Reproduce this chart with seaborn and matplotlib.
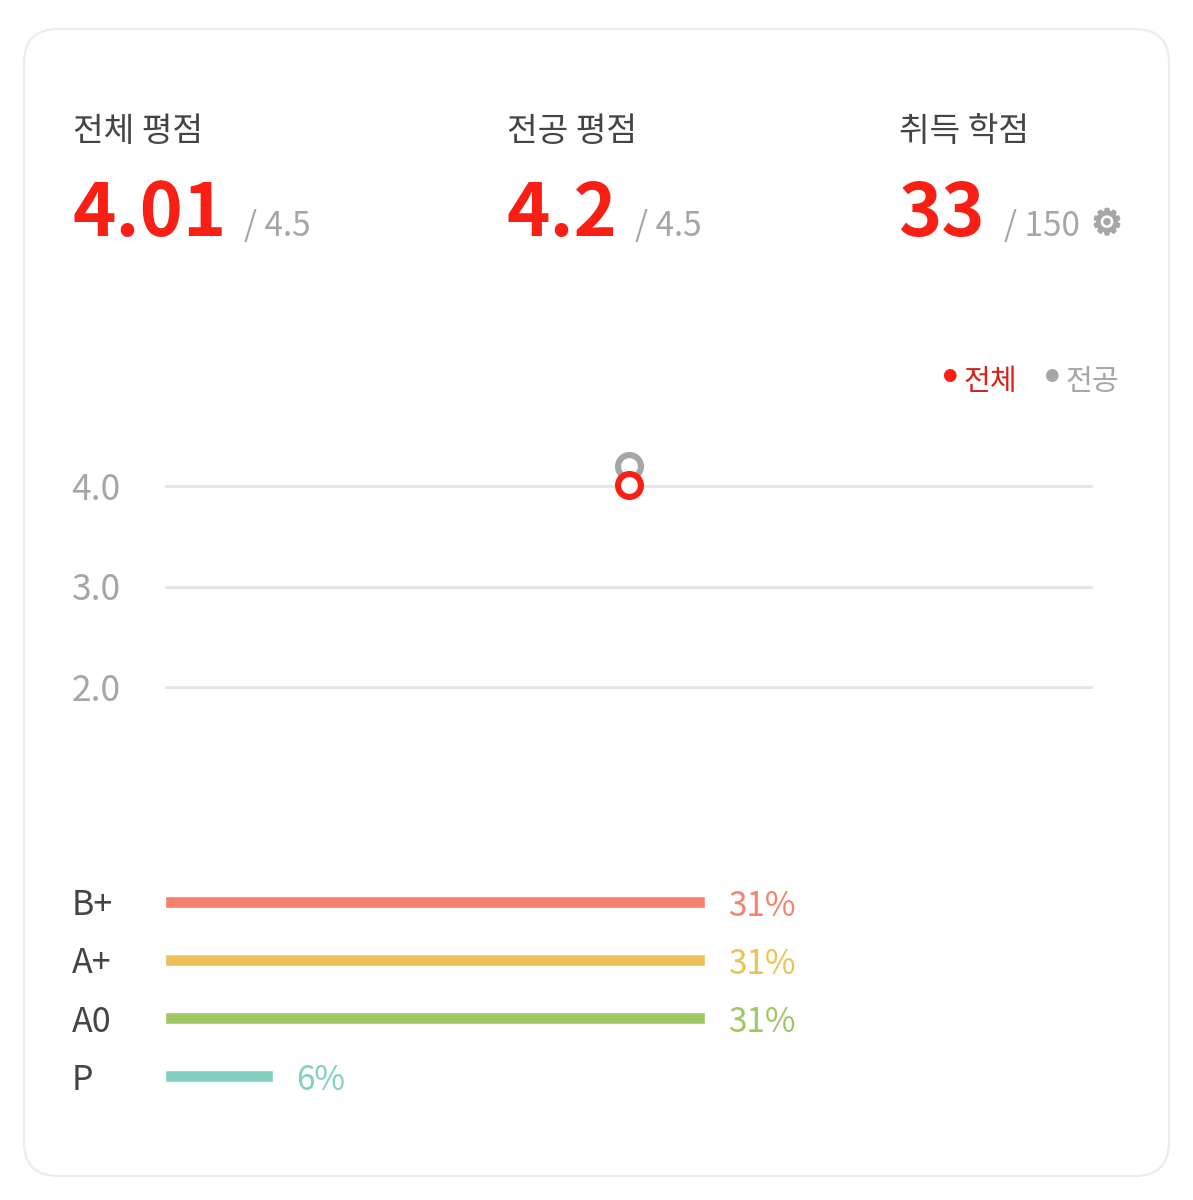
import matplotlib
matplotlib.use("Agg")
import matplotlib.pyplot as plt
import matplotlib.patheffects as pe
from matplotlib.patches import FancyBboxPatch
import pandas as pd
import seaborn as sns

sns.set_theme(style="white")
plt.rcParams['font.family'] = ['Noto Sans CJK KR', 'DejaVu Sans']

W, H = 1193, 1200

# data
summary_titles = ["전체 평점", "전공 평점", "취득 학점"]
summary_values = ["4.01", "4.2", "33"]
summary_limits = ["/ 4.5", "/ 4.5", "/ 150"]
terms = ["1"]
overall_gpa = [4.01]
major_gpa = [4.2]
gpa_ticks = [2.0, 3.0, 4.0]
grades = ["B+", "A+", "A0", "P"]
grade_shares = [31.25, 31.25, 31.25, 6.25]
grade_labels = ["31%", "31%", "31%", "6%"]

RED = "#f91f15"
GREY = "#a6a6a6"
DARK = "#444444"
GRADE_COLORS = ["#f4826e", "#ecc158", "#9fc763", "#82d0bf"]

fig = plt.figure(figsize=(W / 100, H / 100), dpi=100, facecolor="white")

def fx(x): return x / W
def fy(y): return 1 - y / H
def axes_px(x0, y0, x1, y1):
    return fig.add_axes([fx(x0), fy(y1), (x1 - x0) / W, (y1 - y0) / H])

# card
bg = fig.add_axes([0, 0, 1, 1], zorder=0)
bg.set_xlim(0, W); bg.set_ylim(H, 0); bg.axis("off")
bg.add_patch(FancyBboxPatch((24 + 34, 29 + 34), 1145 - 68, 1147 - 68,
                            boxstyle="round,pad=34,rounding_size=34",
                            fc="white", ec="#ececec", lw=1.6))

# header
title_x = [73, 507, 899]
limit_x = [244, 635, 1004]
for tx, lx, t, v, l in zip(title_x, limit_x, summary_titles, summary_values, summary_limits):
    fig.text(fx(tx), fy(131), t, fontsize=24, color=DARK, va="center", ha="left")
    fig.text(fx(tx - 1), fy(215), v, fontsize=53, color=RED, weight="bold", va="center", ha="left")
    fig.text(fx(lx), fy(226), l, fontsize=24, color=GREY, weight="light", va="center", ha="left")
fig.text(fx(1107), fy(224), "⚙", fontsize=25, color=GREY, family="DejaVu Sans", va="center", ha="center",
         path_effects=[pe.withStroke(linewidth=1.6, foreground=GREY)])

# legend
fig.text(fx(949), fy(375), "●", fontsize=12, color=RED, family="DejaVu Sans", va="center", ha="center")
fig.text(fx(963), fy(382), "전체", fontsize=21, color="#d8221a", va="center", ha="left")
fig.text(fx(1051), fy(375), "●", fontsize=12, color=GREY, family="DejaVu Sans", va="center", ha="center")
fig.text(fx(1065), fy(382), "전공", fontsize=21, color=GREY, weight="light", va="center", ha="left")

# line chart
ax = axes_px(165, 426, 1093, 787)
ax.patch.set_alpha(0)
line_df = pd.DataFrame({
    "term": terms * 2,
    "gpa": major_gpa + overall_gpa,
    "kind": ["전공", "전체"],
})
sns.lineplot(data=line_df, x="term", y="gpa", hue="kind", palette={"전공": GREY, "전체": RED},
             marker="o", markersize=16.5, markerfacecolor="white", markeredgewidth=4.4,
             legend=False, ax=ax, zorder=3)
for line, c in zip(ax.lines, [GREY, RED]):
    line.set_markeredgecolor(c)
ax.set_xlim(-0.5, 0.5)
ax.set_ylim(2.0 - 100 / 100.5, 4.0 + 60 / 100.5)
ax.set_yticks(gpa_ticks)
ax.set_yticklabels([f"{v:.1f}" for v in gpa_ticks], fontsize=25.5, color=GREY, weight="light")
ax.set_xticks([])
ax.set_xlabel(""); ax.set_ylabel("")
ax.grid(axis="y", color="#e6e6e6", lw=2.2, zorder=0)
ax.grid(axis="x", visible=False)
ax.tick_params(axis="y", length=0, pad=0)
sns.despine(ax=ax, left=True, bottom=True)
for lab in ax.get_yticklabels():
    lab.set_ha("left")
    lab.set_x(-93.5 / 928)

# bars
bx = axes_px(165, 873, 1093, 1105)
bx.patch.set_alpha(0)
bar_df = pd.DataFrame({"grade": grades, "share": grade_shares})
sns.barplot(data=bar_df, x="share", y="grade", hue="grade", palette=GRADE_COLORS,
            order=grades, width=12 / 58, legend=False, ax=bx, saturation=1)
bx.set_xlim(0, 928 / 17.28)
bx.set_ylim(3.5, -0.5)
bx.set_xlabel(""); bx.set_ylabel(""); bx.set_xticks([])
bx.set_yticklabels(grades, fontsize=24.5, color=DARK, weight="light")
bx.tick_params(axis="y", length=0, pad=0)
for lab in bx.get_yticklabels():
    lab.set_ha("left")
    lab.set_x(-93 / 928)
sns.despine(ax=bx, left=True, bottom=True)
for i, (s, l, c) in enumerate(zip(grade_shares, grade_labels, GRADE_COLORS)):
    bx.annotate(l, (s, i), xytext=(23 * 0.72, -3), textcoords="offset points",
                fontsize=24, color=c, weight="light", va="center", ha="left")

fig.savefig("out.png", dpi=100, facecolor="white")
